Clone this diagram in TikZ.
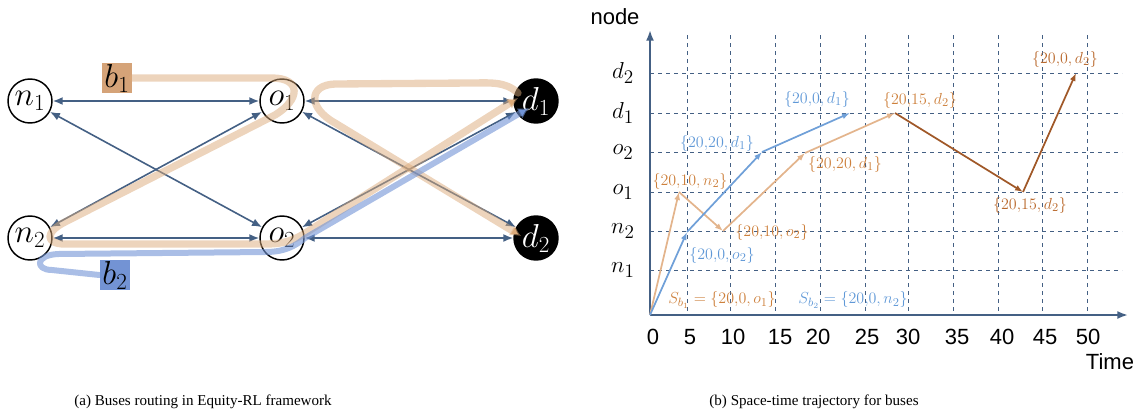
\documentclass[tikz,border=0pt]{standalone}
\usepackage{fontspec}
\setmainfont{Liberation Serif}
\newfontfamily\arialfont{Liberation Sans}
\usepackage{tikz}
\usetikzlibrary{arrows.meta,positioning}
\usepackage{xcolor}
\definecolor{edgeblue}  {RGB}{ 68, 96,132}
\definecolor{routetan}  {RGB}{219,170,122}
\definecolor{routeblue} {RGB}{113,147,213}
\definecolor{tagtan}    {RGB}{213,163,120}
\definecolor{tagblue}   {RGB}{115,147,212}
\definecolor{traytan}   {RGB}{227,180,140}
\definecolor{trayblue}  {RGB}{112,160,216}
\definecolor{traybrown} {RGB}{160, 88, 40}
\definecolor{txtorange} {RGB}{205,128, 60}
\definecolor{txtbrown}  {RGB}{185,105, 45}
\definecolor{txtblue}   {RGB}{ 95,152,215}

\begin{document}
\begin{tikzpicture}[
    x=0.75pt, y=-0.75pt,
    city/.style={draw=black, circle, line width=1.1pt, minimum size=33pt, inner sep=0pt, fill=white, font=\fontsize{25}{27}\selectfont},
    depot/.style={city, fill=black, text=white},
    link/.style={{Latex[length=7.5pt,width=6pt]}-{Latex[length=7.5pt,width=6pt]}, draw=edgeblue, line width=1.2pt},
    route/.style={line width=5.5pt, draw opacity=0.5, line cap=round, line join=round, -{Latex[length=8pt,width=9pt]}},
    bustag/.style={minimum width=23pt, minimum height=23pt, inner sep=0pt, font=\fontsize{24}{26}\selectfont},
    axis/.style={-{Latex[length=8pt,width=6pt]}, draw=edgeblue, line width=1.5pt},
    gridline/.style={draw=edgeblue, dashed, line width=0.6pt},
    tray/.style={-{Latex[length=6pt,width=4.5pt]}, line width=1.3pt},
    sans/.style={font=\arialfont\fontsize{16.5}{18}\selectfont},
    ylab/.style={font=\fontsize{19}{21}\selectfont},
    state/.style={font=\fontsize{12.5}{14}\selectfont, inner sep=1pt},
    caption/.style={font=\fontsize{11.3}{13}\selectfont}
]
    \useasboundingbox (0,0) rectangle (1142,419);

    % (a) network
    \node[city] (n1) at (30,101) {$n_1$};
    \node[city] (o1) at (282,101) {$o_1$};
    \node[depot] (d1) at (536,101) {$d_1$};
    \node[city] (n2) at (30,238) {$n_2$};
    \node[city] (o2) at (282,238) {$o_2$};
    \node[depot] (d2) at (536,238) {$d_2$};

    \draw[link] (n1) -- (o1);
    \draw[link] (n1) -- (o2);
    \draw[link] (n2) -- (o1);
    \draw[link] (n2) -- (o2);
    \draw[link] (o1) -- (d1);
    \draw[link] (o1) -- (d2);
    \draw[link] (o2) -- (d1);
    \draw[link] (o2) -- (d2);

    \node[bustag, fill=tagtan] (b1) at (117,78) {$b_1$};
    \node[bustag, fill=tagblue] (b2) at (115,275) {$b_2$};

    % bus routes
    \draw[route, draw=routetan] (b1.east) -- (272,78) .. controls (302,78) and (300,100) .. (275,115)
        -- (65,222) .. controls (45,232) and (45,244) .. (65,244) -- (265,244)
        .. controls (285,244) and (295,240) .. (310,230) -- (518,98);
    \draw[route, draw=routetan] (518,93) .. controls (505,81) and (490,83) .. (470,83) -- (335,84)
        .. controls (308,85) and (308,108) .. (335,123) -- (521,236);
    \draw[route, draw=routeblue, draw opacity=0.6, line width=4.5pt] (b2.west) -- (52,270)
        .. controls (35,270) and (35,255) .. (58,254) -- (265,252)
        .. controls (285,252) and (295,246) .. (305,238) -- (529,108);

    % (b) space-time trajectory
    \coordinate (orig) at (650,315);
    \coordinate (ytop) at (650,30);
    \coordinate (xend) at (1128,315);
    \foreach \gx in {687,730,775,820,865,908,953,998,1042,1087}
        \draw[gridline] (\gx,35) -- (\gx,315);
    \foreach \gy in {270,231,192,152,113,73}
        \draw[gridline] (650,\gy) -- (1122,\gy);
    \draw[axis] (orig) -- (ytop);
    \draw[axis] (orig) -- (xend);

    \node[sans] (ynm) at (615,17) {node};
    \node[sans] (xnm) at (1110,362) {Time};
    \foreach \gx/\t in {653/0,690/5,733/10,780/15,818/20,867/25,908/30,957/35,1002/40,1045/45,1088/50}
        \node[sans] (t\t) at (\gx,337) {\t};
    \foreach \gy/\nm [count=\i] in {270/n_1,231/n_2,192/o_1,152/o_2,113/d_1,73/d_2}
        \node[ylab] (yl\i) at (623,\gy) {$\nm$};

    \coordinate (p1) at (679,192);
    \coordinate (p2) at (723,231);
    \coordinate (p3) at (805,153);
    \coordinate (p4) at (895,113);
    \coordinate (p5) at (1023,192);
    \coordinate (p6) at (1076,73);
    \coordinate (q1) at (687,232);
    \coordinate (q2) at (762,152);
    \coordinate (q3) at (850,113);

    \draw[tray, draw=traytan] (orig) -- (p1);
    \draw[tray, draw=traytan] (p1) -- (p2);
    \draw[tray, draw=traytan] (p2) -- (p3);
    \draw[tray, draw=traytan] (p3) -- (p4);
    \draw[tray, draw=traybrown] (p4) -- (p5);
    \draw[tray, draw=traybrown] (p5) -- (p6);
    \draw[tray, draw=trayblue] (orig) -- (q1);
    \draw[tray, draw=trayblue] (q1) -- (q2);
    \draw[tray, draw=trayblue] (q2) -- (q3);

    \node[state, text=txtorange] (s1) at (690,181) {$\{20{,}10, n_2\}$};
    \node[state, text=txtblue] (s2) at (722,255) {$\{20{,}0, o_2\}$};
    \node[state, text=txtorange] (s3) at (772,232) {$\{20{,}10, o_2\}$};
    \node[state, text=txtblue] (s4) at (717,143) {$\{20{,}20, d_1\}$};
    \node[state, text=txtorange] (s5) at (845,164) {$\{20{,}20, d_1\}$};
    \node[state, text=txtblue] (s6) at (817,99) {$\{20{,}0, d_1\}$};
    \node[state, text=txtorange] (s7) at (920,100) {$\{20{,}15, d_2\}$};
    \node[state, text=txtbrown] (s8) at (1030,205) {$\{20{,}15, d_2\}$};
    \node[state, text=txtbrown] (s9) at (1065,59) {$\{20{,}0, d_2\}$};
    \node[state, text=txtorange] (sb1) at (722,300) {$S_{b_1}=\{20{,}0, o_1\}$};
    \node[state, text=txtblue] (sb2) at (853,300) {$S_{b_2}=\{20{,}0, n_2\}$};

    \node[caption] (capa) at (203,402) {(a) Buses routing in Equity-RL framework};
    \node[caption] (capb) at (814,402) {(b) Space-time trajectory for buses};
\end{tikzpicture}
\end{document}
